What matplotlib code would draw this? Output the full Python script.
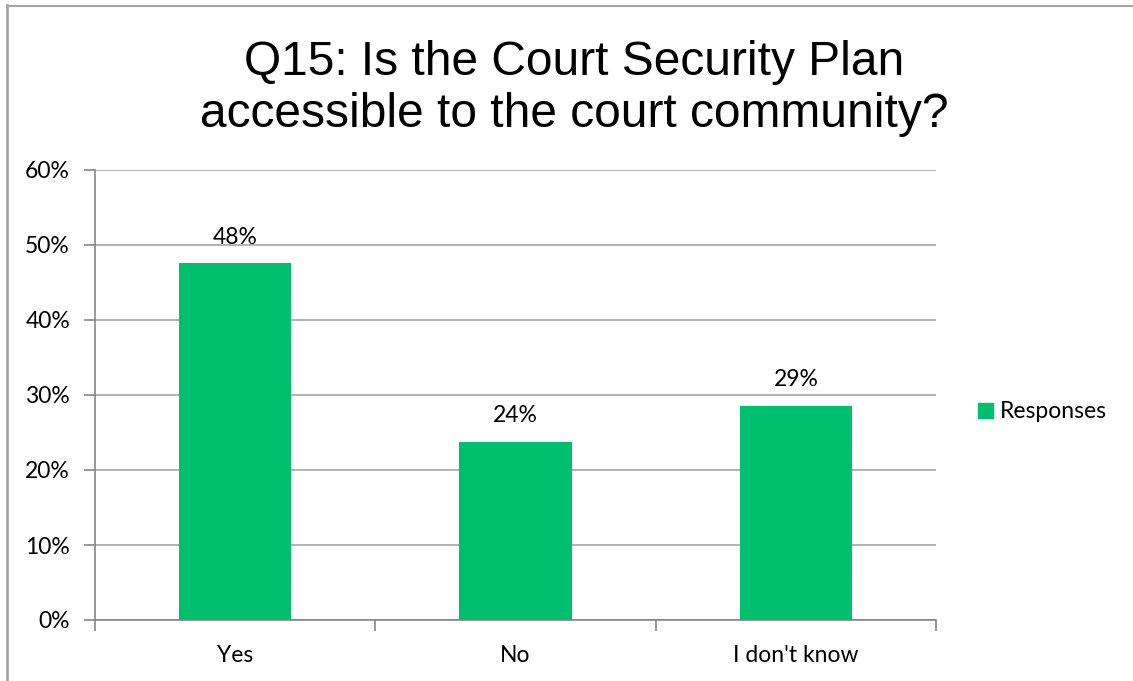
import matplotlib
matplotlib.use("Agg")
import matplotlib.pyplot as plt
from matplotlib.patches import Patch
from matplotlib.lines import Line2D

categories = ["Yes", "No", "I don't know"]
responses = [0.476, 0.238, 0.286]
y_ticks = [0.0, 0.1, 0.2, 0.3, 0.4, 0.5, 0.6]
title_lines = ["Q15: Is the Court Security Plan", "accessible to the court community?"]
series_name = "Responses"

bar_color = "#00BF6F"
grid_color = "#A6A6A6"
axis_color = "#868686"
label_font = ["Lato", "DejaVu Sans"]
title_font = ["Liberation Sans", "DejaVu Sans"]
label_size = 16.5

W, H = 1133, 681
fig = plt.figure(figsize=(W / 100, H / 100), dpi=100)

# outer chart frame (top and left edges)
fig.add_artist(Line2D([6.5 / W, 6.5 / W], [0, 1 - 5 / H], transform=fig.transFigure,
                      color=grid_color, lw=2))
fig.add_artist(Line2D([6.5 / W, 1], [1 - 5.5 / H, 1 - 5.5 / H], transform=fig.transFigure,
                      color=grid_color, lw=1.5))

left, right, top, bottom = 95, 936, 170, 620
ax = fig.add_axes([left / W, 1 - bottom / H, (right - left) / W, (bottom - top) / H])

x = list(range(len(categories)))
bars = ax.bar(x, responses, width=0.4, color=bar_color, zorder=3)

ax.set_xlim(-0.5, len(categories) - 0.5)
ax.set_ylim(0, 0.6)
ax.set_yticks(y_ticks)
ax.set_yticklabels([f"{int(round(t * 100))}%" for t in y_ticks], fontfamily=label_font,
                   fontsize=label_size)
ax.yaxis.grid(True, color=grid_color, lw=1.2, zorder=0)
ax.set_axisbelow(True)

# category boundary ticks on the x axis
ax.set_xticks([i - 0.5 for i in range(len(categories) + 1)])
ax.set_xticklabels([])
ax.set_xticks(x, minor=True)
ax.set_xticklabels(categories, minor=True, fontfamily=label_font, fontsize=label_size)
ax.tick_params(axis="x", which="major", length=8, color=axis_color, width=1.2, direction="out")
ax.tick_params(axis="x", which="minor", length=0, pad=18)
ax.tick_params(axis="y", length=8, color=axis_color, width=1.2, pad=10)

for side in ["top", "right"]:
    ax.spines[side].set_visible(False)
for side in ["left", "bottom"]:
    ax.spines[side].set_color(axis_color)
    ax.spines[side].set_linewidth(1.2)

for rect, v in zip(bars, responses):
    ax.annotate(f"{v * 100:.0f}%", (rect.get_x() + rect.get_width() / 2, v),
                xytext=(0, 11), textcoords="offset points", ha="center", va="bottom",
                fontfamily=label_font, fontsize=label_size)

for line, base in zip(title_lines, [75, 127]):
    fig.text(574 / W, 1 - base / H, line, ha="center", va="baseline",
             fontfamily=title_font, fontsize=34.5)

leg = fig.legend(handles=[Patch(color=bar_color, label=series_name)],
                 loc="center left", bbox_to_anchor=(957 / W, 1 - 412 / H),
                 frameon=False, prop={"family": label_font, "size": label_size},
                 handlelength=0.65, handleheight=0.65, handletextpad=0.3)

fig.savefig("out.png", dpi=100, facecolor="white")
